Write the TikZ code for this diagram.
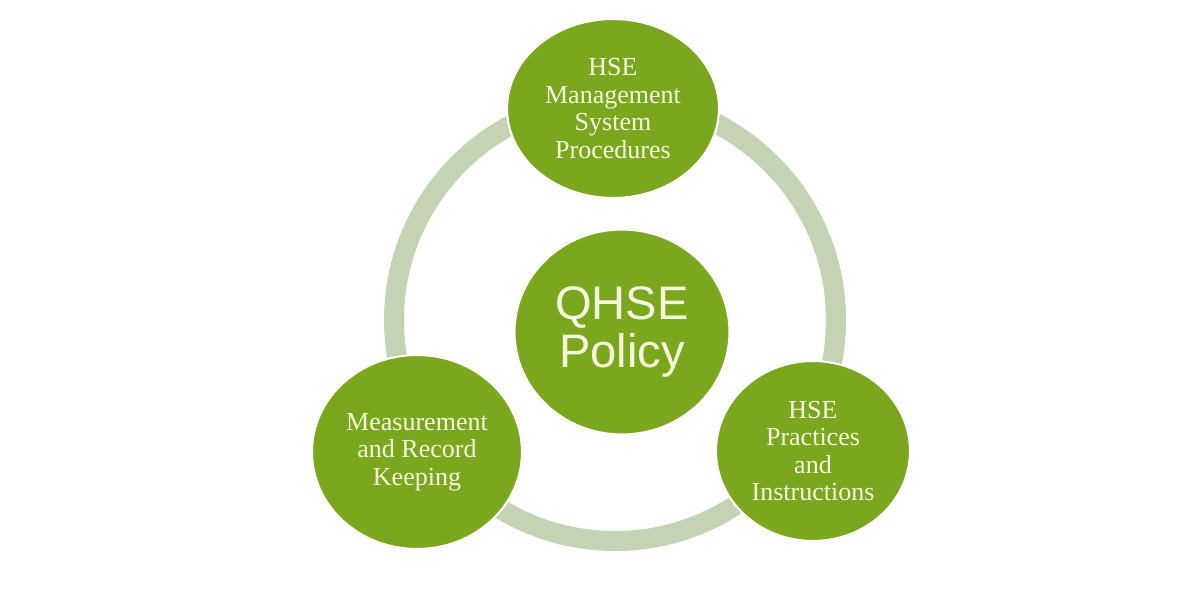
\documentclass[tikz,border=0pt]{standalone}
\usepackage{fontspec}
\setmainfont{Liberation Serif}
\newfontfamily\policyfont{Liberation Sans}
\usetikzlibrary{shapes.geometric}

\definecolor{leaf}{RGB}{122,167,30}
\definecolor{sage}{RGB}{196,211,180}
\definecolor{cream}{RGB}{246,248,222}

\begin{document}
\begin{tikzpicture}[
  spoke/.style={ellipse, draw=white, line width=0.6pt, fill=leaf, text=cream,
    inner sep=0pt, align=center, font=\fontsize{7.4}{7.8}\selectfont},
  hub/.style={spoke, font=\policyfont\fontsize{13.4}{13.8}\selectfont},
]
  \fill[white] (0,0) rectangle (12,6);
  \useasboundingbox (0,0) rectangle (12,6);

  % ring behind the circles
  \coordinate (mid) at (6.15,2.80);
  \draw[sage, line width=0.2cm] (mid) circle (2.21);

  \node[hub, minimum width=2.15cm, minimum height=2.05cm] (policy) at (6.22,2.68)
    {QHSE\\Policy};

  \node[spoke, minimum width=2.12cm, minimum height=1.79cm] (procs) at (6.13,4.915)
    {HSE\\Management\\System\\Procedures};

  \node[spoke, minimum width=2.10cm, minimum height=1.94cm] (records) at (4.17,1.48)
    {Measurement\\and Record\\Keeping};

  \node[spoke, minimum width=1.94cm, minimum height=1.80cm] (practices) at (8.13,1.49)
    {HSE\\Practices\\and\\Instructions};
\end{tikzpicture}
\end{document}
